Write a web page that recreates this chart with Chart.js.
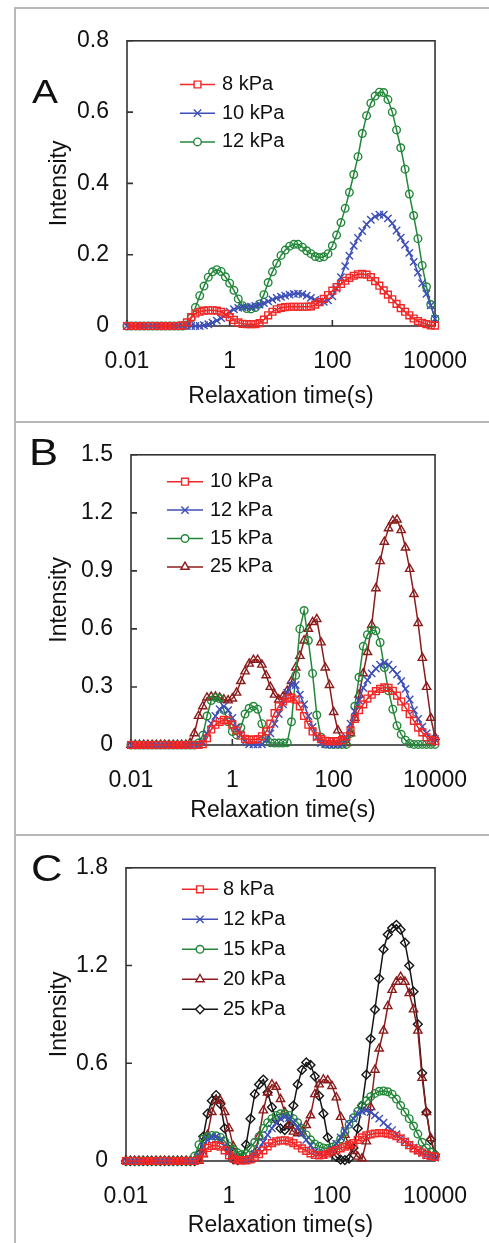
<!DOCTYPE html>
<html>
<head>
<meta charset="utf-8">
<title>Relaxation time spectra</title>
<script src="https://cdn.jsdelivr.net/npm/chart.js@4.4.0/dist/chart.umd.min.js"></script>
<style>
  body { margin: 0; background: #fff; }
  #page { position: relative; width: 489px; height: 1243px; overflow: hidden; font-family: "Liberation Sans", Arial, sans-serif; }
  .panel { position: absolute; left: 0; width: 489px; }
  .panel canvas { display: block; }
  .rule { position: absolute; background: #b8b8b8; }
  .letter { position: absolute; color: #111; line-height: 1; transform-origin: left center; transform: scaleX(1.18); }
</style>
</head>
<body>
<div id="page">
  <div class="panel" style="top:9px;height:412px"><canvas id="chartA" width="489" height="412"></canvas></div>
  <div class="panel" style="top:423px;height:411px"><canvas id="chartB" width="489" height="411"></canvas></div>
  <div class="panel" style="top:836px;height:407px"><canvas id="chartC" width="489" height="407"></canvas></div>

  <div class="rule" style="left:14px;top:7px;width:2px;height:1236px"></div>
  <div class="rule" style="left:14px;top:7px;width:475px;height:2px"></div>
  <div class="rule" style="left:14px;top:421px;width:475px;height:2px"></div>
  <div class="rule" style="left:14px;top:834px;width:475px;height:2px"></div>

  <div class="letter" style="left:32px;top:75px;font-size:33px">A</div>
  <div class="letter" style="left:29px;top:434px;font-size:37px">B</div>
  <div class="letter" style="left:31px;top:850px;font-size:37px">C</div>
</div>

<script>
// relaxation times, 12 points per decade
const times = [
  0.01, 0.0121, 0.0147, 0.0178, 0.0215, 0.0261, 0.0316, 0.0383, 0.0464, 0.0562, 0.0681, 0.0825,
  0.1, 0.121, 0.147, 0.178, 0.215, 0.261, 0.316, 0.383, 0.464, 0.562, 0.681, 0.825,
  1, 1.21, 1.47, 1.78, 2.15, 2.61, 3.16, 3.83, 4.64, 5.62, 6.81, 8.25,
  10, 12.1, 14.7, 17.8, 21.5, 26.1, 31.6, 38.3, 46.4, 56.2, 68.1, 82.5,
  100, 121, 147, 178, 215, 261, 316, 383, 464, 562, 681, 825,
  1000, 1210, 1470, 1780, 2150, 2610, 3160, 3830, 4640, 5620, 6810, 8250,
  10000
];

// panel A
const a8 = [
  0, 0, 0, 0, 0, 0, 0, 0, 0, 0, 0, 0,
  0, 0.002, 0.01, 0.025, 0.035, 0.04, 0.043, 0.044, 0.044, 0.043, 0.04, 0.034,
  0.025, 0.017, 0.01, 0.006, 0.005, 0.005, 0.005, 0.008, 0.018, 0.03, 0.04, 0.047,
  0.051, 0.053, 0.054, 0.054, 0.054, 0.054, 0.054, 0.055, 0.06, 0.067, 0.076, 0.087,
  0.099, 0.109, 0.118, 0.127, 0.135, 0.141, 0.145, 0.146, 0.144, 0.137, 0.126, 0.113,
  0.1, 0.088, 0.075, 0.062, 0.05, 0.04, 0.03, 0.021, 0.014, 0.009, 0.005, 0.002,
  0.001
];
const a10 = [
  0, 0, 0, 0, 0, 0, 0, 0, 0, 0, 0, 0,
  0, 0, 0, 0, 0, 0, 0.002, 0.005, 0.009, 0.015, 0.022, 0.031,
  0.04, 0.047, 0.051, 0.053, 0.053, 0.054, 0.056, 0.06, 0.064, 0.069, 0.074, 0.079,
  0.082, 0.085, 0.088, 0.09, 0.091, 0.089, 0.085, 0.079, 0.073, 0.069, 0.068, 0.072,
  0.083, 0.105, 0.137, 0.168, 0.197, 0.225, 0.247, 0.266, 0.285, 0.298, 0.307, 0.312,
  0.312, 0.302, 0.288, 0.268, 0.248, 0.228, 0.205, 0.18, 0.15, 0.12, 0.09, 0.058,
  0.02
];
const a12 = [
  0, 0, 0, 0, 0, 0, 0, 0, 0, 0, 0, 0,
  0, 0, 0.003, 0.022, 0.052, 0.085, 0.112, 0.137, 0.152, 0.158, 0.153, 0.138,
  0.12, 0.1, 0.076, 0.057, 0.049, 0.048, 0.052, 0.062, 0.088, 0.122, 0.152, 0.176,
  0.198, 0.213, 0.224, 0.229, 0.229, 0.221, 0.211, 0.203, 0.195, 0.192, 0.194, 0.203,
  0.225, 0.255, 0.29, 0.33, 0.375, 0.425, 0.475, 0.54, 0.59, 0.625, 0.645, 0.656,
  0.655, 0.635, 0.6, 0.55, 0.5, 0.44, 0.37, 0.31, 0.245, 0.17, 0.11, 0.06,
  0.02
];

// panel B
const b10 = [
  0, 0, 0, 0, 0, 0, 0, 0, 0, 0, 0, 0,
  0, 0, 0, 0, 0, 0.005, 0.035, 0.08, 0.105, 0.12, 0.13, 0.127,
  0.105, 0.075, 0.048, 0.032, 0.028, 0.028, 0.03, 0.045, 0.07, 0.11, 0.165, 0.2,
  0.225, 0.24, 0.245, 0.235, 0.2, 0.15, 0.105, 0.07, 0.045, 0.03, 0.022, 0.02,
  0.02, 0.02, 0.025, 0.045, 0.075, 0.135, 0.18, 0.21, 0.24, 0.26, 0.278, 0.29,
  0.298, 0.295, 0.28, 0.255, 0.225, 0.195, 0.16, 0.125, 0.09, 0.065, 0.04, 0.025,
  0.02
];
const b12 = [
  0, 0, 0, 0, 0, 0, 0, 0, 0, 0, 0, 0,
  0, 0, 0, 0, 0, 0.015, 0.06, 0.11, 0.15, 0.185, 0.2, 0.18,
  0.14, 0.09, 0.055, 0.017, 0.003, 0.003, 0.003, 0.003, 0.025, 0.06, 0.11, 0.16,
  0.21, 0.27, 0.31, 0.31, 0.26, 0.21, 0.15, 0.093, 0.04, 0.01, 0.003, 0.003,
  0.003, 0.003, 0.003, 0.04, 0.11, 0.175, 0.23, 0.295, 0.335, 0.37, 0.395, 0.415,
  0.425, 0.415, 0.39, 0.365, 0.33, 0.29, 0.235, 0.18, 0.135, 0.095, 0.06, 0.035,
  0.03
];
const b15 = [
  0, 0, 0, 0, 0, 0, 0, 0, 0, 0, 0, 0,
  0, 0, 0, 0, 0.01, 0.05, 0.15, 0.23, 0.245, 0.24, 0.18, 0.12,
  0.07, 0.052, 0.09, 0.16, 0.19, 0.2, 0.185, 0.11, 0.035, 0.012, 0.01, 0.01,
  0.01, 0.012, 0.12, 0.36, 0.6, 0.695, 0.54, 0.37, 0.155, 0.04, 0.005, 0.003,
  0.003, 0.003, 0.003, 0.003, 0.06, 0.2, 0.35, 0.51, 0.57, 0.595, 0.59, 0.53,
  0.4, 0.28, 0.185, 0.1, 0.055, 0.025, 0.008, 0.003, 0.003, 0.003, 0.003, 0.003,
  0.003
];
const b25 = [
  0, 0, 0, 0, 0, 0, 0, 0, 0, 0, 0, 0,
  0, 0, 0.01, 0.06, 0.15, 0.2, 0.245, 0.25, 0.25, 0.245, 0.235, 0.23,
  0.24, 0.27, 0.33, 0.38, 0.42, 0.44, 0.44, 0.415, 0.36, 0.3, 0.26, 0.235,
  0.25, 0.28, 0.33, 0.4, 0.46, 0.54, 0.6, 0.635, 0.65, 0.53, 0.4, 0.31,
  0.17, 0.075, 0.025, 0.01, 0.06, 0.14, 0.26, 0.37, 0.48, 0.62, 0.81, 0.95,
  1.05, 1.12, 1.16, 1.165, 1.11, 1.02, 0.91, 0.78, 0.63, 0.45, 0.3, 0.14,
  0.04
];

// panel C
const c8 = [
  0, 0, 0, 0, 0, 0, 0, 0, 0, 0, 0, 0,
  0, 0, 0, 0, 0, 0.01, 0.05, 0.08, 0.092, 0.097, 0.088, 0.065,
  0.035, 0.015, 0.005, 0.004, 0.004, 0.01, 0.025, 0.042, 0.065, 0.09, 0.11, 0.12,
  0.126, 0.127, 0.12, 0.11, 0.095, 0.077, 0.062, 0.047, 0.037, 0.035, 0.037, 0.046,
  0.057, 0.067, 0.078, 0.088, 0.098, 0.11, 0.13, 0.145, 0.157, 0.164, 0.169, 0.172,
  0.171, 0.168, 0.161, 0.152, 0.137, 0.117, 0.097, 0.078, 0.065, 0.052, 0.038, 0.03,
  0.025
];
const c12 = [
  0, 0, 0, 0, 0, 0, 0, 0, 0, 0, 0, 0,
  0, 0, 0, 0, 0, 0.03, 0.09, 0.13, 0.147, 0.15, 0.13, 0.09,
  0.055, 0.02, 0.005, 0.003, 0.005, 0.012, 0.045, 0.075, 0.115, 0.16, 0.2, 0.235,
  0.26, 0.27, 0.265, 0.24, 0.21, 0.17, 0.13, 0.095, 0.06, 0.045, 0.036, 0.045,
  0.07, 0.107, 0.145, 0.185, 0.228, 0.26, 0.29, 0.305, 0.31, 0.3, 0.28, 0.26,
  0.235, 0.21, 0.19, 0.165, 0.14, 0.12, 0.1, 0.082, 0.062, 0.048, 0.035, 0.027,
  0.02
];
const c15 = [
  0, 0, 0, 0, 0, 0, 0, 0, 0, 0, 0, 0,
  0, 0, 0, 0, 0.03, 0.1, 0.135, 0.15, 0.157, 0.155, 0.145, 0.12,
  0.09, 0.07, 0.05, 0.04, 0.045, 0.08, 0.115, 0.15, 0.2, 0.235, 0.26, 0.28,
  0.29, 0.29, 0.28, 0.26, 0.235, 0.2, 0.16, 0.13, 0.105, 0.09, 0.08, 0.077,
  0.085, 0.1, 0.135, 0.18, 0.225, 0.265, 0.305, 0.34, 0.37, 0.395, 0.415, 0.428,
  0.43, 0.425, 0.41, 0.38, 0.34, 0.3, 0.26, 0.215, 0.165, 0.115, 0.08, 0.055,
  0.035
];
const c20 = [
  0, 0, 0, 0, 0, 0, 0, 0, 0, 0, 0, 0,
  0, 0, 0, 0, 0, 0, 0.04, 0.16, 0.3, 0.37, 0.37, 0.3,
  0.2, 0.09, 0.03, 0.01, 0.005, 0.01, 0.05, 0.15, 0.31, 0.42, 0.47, 0.455,
  0.38, 0.3, 0.22, 0.18, 0.17, 0.18, 0.22, 0.28, 0.41, 0.47, 0.5, 0.495,
  0.46, 0.39, 0.27, 0.16, 0.095, 0.06, 0.026, 0.016, 0.12, 0.33, 0.56, 0.69,
  0.8, 0.95, 1.05, 1.1, 1.13, 1.1, 1.03, 0.93, 0.8, 0.51, 0.3, 0.14,
  0.04
];
const c25 = [
  0, 0, 0, 0, 0, 0, 0, 0, 0, 0, 0, 0,
  0, 0, 0, 0, 0, 0.04, 0.15, 0.29, 0.37, 0.405, 0.35, 0.2,
  0.07, 0.01, 0.005, 0.01, 0.1, 0.26, 0.41, 0.47, 0.5, 0.42, 0.33, 0.255,
  0.2, 0.19, 0.22, 0.34, 0.47, 0.56, 0.605, 0.59, 0.52, 0.4, 0.29, 0.145,
  0.06, 0.025, 0.008, 0.006, 0.015, 0.08, 0.2, 0.34, 0.53, 0.75, 0.93, 1.12,
  1.3, 1.39, 1.43, 1.45, 1.42, 1.34, 1.2, 1.04, 0.84, 0.54, 0.3, 0.13,
  0.04
];

const labelsA = ['8 kPa', '10 kPa', '12 kPa'];
const labelsB = ['10 kPa', '12 kPa', '15 kPa', '25 kPa'];
const labelsC = ['8 kPa', '12 kPa', '15 kPa', '20 kPa', '25 kPa'];

const xTickValues = [0.01, 1, 100, 10000];
const xTickLabels = ['0.01', '1', '100', '10000'];
const yTicksA = [0, 0.2, 0.4, 0.6, 0.8];
const yLabelsA = ['0', '0.2', '0.4', '0.6', '0.8'];
const yTicksB = [0, 0.3, 0.6, 0.9, 1.2, 1.5];
const yLabelsB = ['0', '0.3', '0.6', '0.9', '1.2', '1.5'];
const yTicksC = [0, 0.6, 1.2, 1.8];
const yLabelsC = ['0', '0.6', '1.2', '1.8'];

const FONT = '"Liberation Sans", Arial, sans-serif';
Chart.defaults.font.family = FONT;
Chart.defaults.color = '#111';

const STYLES = {
  red:   { color: '#f02828', point: 'rect',     radius: 4.8 },
  blue:  { color: '#3d4fb6', point: 'crossRot', radius: 5.2 },
  green: { color: '#23873a', point: 'circle',   radius: 3.8 },
  brown: { color: '#8c1c1c', point: 'triangle', radius: 4.8 },
  black: { color: '#151515', point: 'rectRot',  radius: 4.4 }
};

// plot box and inward tick marks
const framePlugin = {
  id: 'panelFrame',
  beforeDatasetsDraw(chart) {
    const { ctx, chartArea: a, scales } = chart;
    ctx.save();
    ctx.strokeStyle = '#333';
    ctx.lineWidth = 1.6;
    ctx.strokeRect(a.left, a.top, a.right - a.left, a.bottom - a.top);
    ctx.beginPath();
    scales.x.ticks.forEach(t => {
      const px = scales.x.getPixelForValue(t.value);
      ctx.moveTo(px, a.bottom);
      ctx.lineTo(px, a.bottom - 6);
    });
    scales.y.ticks.forEach(t => {
      const py = scales.y.getPixelForValue(t.value);
      ctx.moveTo(a.left, py);
      ctx.lineTo(a.left + 6, py);
    });
    ctx.stroke();
    ctx.restore();
  }
};

// legend drawn inside the plot like the original
const legendPlugin = {
  id: 'panelLegend',
  afterDraw(chart, args, opts) {
    const ctx = chart.ctx;
    ctx.save();
    chart.data.datasets.forEach((ds, i) => {
      const y = opts.y0 + i * opts.dy;
      ctx.strokeStyle = ds.borderColor;
      ctx.lineWidth = 1.5;
      ctx.beginPath();
      ctx.moveTo(opts.x1, y);
      ctx.lineTo(opts.x2, y);
      ctx.stroke();
      ctx.fillStyle = '#fff';
      ctx.lineWidth = ds.pointBorderWidth;
      Chart.helpers.drawPoint(ctx, {
        pointStyle: ds.pointStyle, radius: ds.pointRadius, rotation: 0, borderWidth: ds.pointBorderWidth
      }, (opts.x1 + opts.x2) / 2, y);
      ctx.fillStyle = '#111';
      ctx.font = '20px ' + FONT;
      ctx.textAlign = 'left';
      ctx.textBaseline = 'middle';
      ctx.fillText(ds.label, opts.tx, y);
    });
    ctx.restore();
  }
};

function makeDataset(label, values, styleKey) {
  const s = STYLES[styleKey];
  return {
    label: label,
    data: times.map((t, i) => ({ x: t, y: values[i] })),
    borderColor: s.color,
    backgroundColor: s.color,
    borderWidth: 1.5,
    pointStyle: s.point,
    pointRadius: s.radius,
    pointBorderWidth: 1.4,
    pointBorderColor: s.color,
    pointBackgroundColor: 'rgba(255,255,255,0)',
    tension: 0,
    clip: 10
  };
}

function makePanel(id, datasets, yTicks, yLabels, area, xHeight, legend) {
  const canvas = document.getElementById(id);
  const tickFont = { size: 23, family: FONT };
  new Chart(canvas, {
    type: 'line',
    data: { datasets: datasets },
    options: {
      responsive: false,
      animation: false,
      events: [],
      layout: {
        padding: {
          left: 0,
          top: area.top,
          right: canvas.width - area.right,
          bottom: canvas.height - area.bottom - xHeight
        }
      },
      plugins: {
        legend: { display: false },
        tooltip: { enabled: false },
        panelLegend: legend
      },
      scales: {
        x: {
          type: 'logarithmic',
          min: 0.01,
          max: 10000,
          afterBuildTicks: s => { s.ticks = xTickValues.map(v => ({ value: v })); },
          afterFit: s => { s.height = xHeight; },
          grid: { display: false, drawTicks: false },
          border: { display: false },
          ticks: {
            font: tickFont, color: '#111', padding: 22, maxRotation: 0, autoSkip: false,
            callback: (v, i) => xTickLabels[i]
          },
          title: { display: true, text: 'Relaxation time(s)', font: tickFont, color: '#111', padding: 0 }
        },
        y: {
          min: 0,
          max: yTicks[yTicks.length - 1],
          afterBuildTicks: s => { s.ticks = yTicks.map(v => ({ value: v })); },
          afterFit: s => { s.width = area.left; },
          grid: { display: false, drawTicks: false },
          border: { display: false },
          ticks: {
            font: tickFont, color: '#111', padding: 18,
            callback: (v, i) => yLabels[i]
          },
          title: { display: true, text: 'Intensity', font: tickFont, color: '#111', padding: { top: 46, bottom: 0 } }
        }
      }
    },
    plugins: [framePlugin, legendPlugin]
  });
}

makePanel('chartA', [
  makeDataset(labelsA[0], a8, 'red'),
  makeDataset(labelsA[1], a10, 'blue'),
  makeDataset(labelsA[2], a12, 'green')
], yTicksA, yLabelsA, { left: 127, right: 439, top: 29, bottom: 317 }, 84,
  { x1: 180, x2: 215, tx: 222, y0: 75.5, dy: 28.7 });

makePanel('chartB', [
  makeDataset(labelsB[0], b10, 'red'),
  makeDataset(labelsB[1], b12, 'blue'),
  makeDataset(labelsB[2], b15, 'green'),
  makeDataset(labelsB[3], b25, 'brown')
], yTicksB, yLabelsB, { left: 131, right: 439, top: 28, bottom: 322 }, 79,
  { x1: 167, x2: 203, tx: 210, y0: 58.7, dy: 28.4 });

makePanel('chartC', [
  makeDataset(labelsC[0], c8, 'red'),
  makeDataset(labelsC[1], c12, 'blue'),
  makeDataset(labelsC[2], c15, 'green'),
  makeDataset(labelsC[3], c20, 'brown'),
  makeDataset(labelsC[4], c25, 'black')
], yTicksC, yLabelsC, { left: 126, right: 438, top: 28, bottom: 325 }, 78,
  { x1: 182, x2: 218, tx: 223, y0: 53.3, dy: 30 });
</script>
</body>
</html>
